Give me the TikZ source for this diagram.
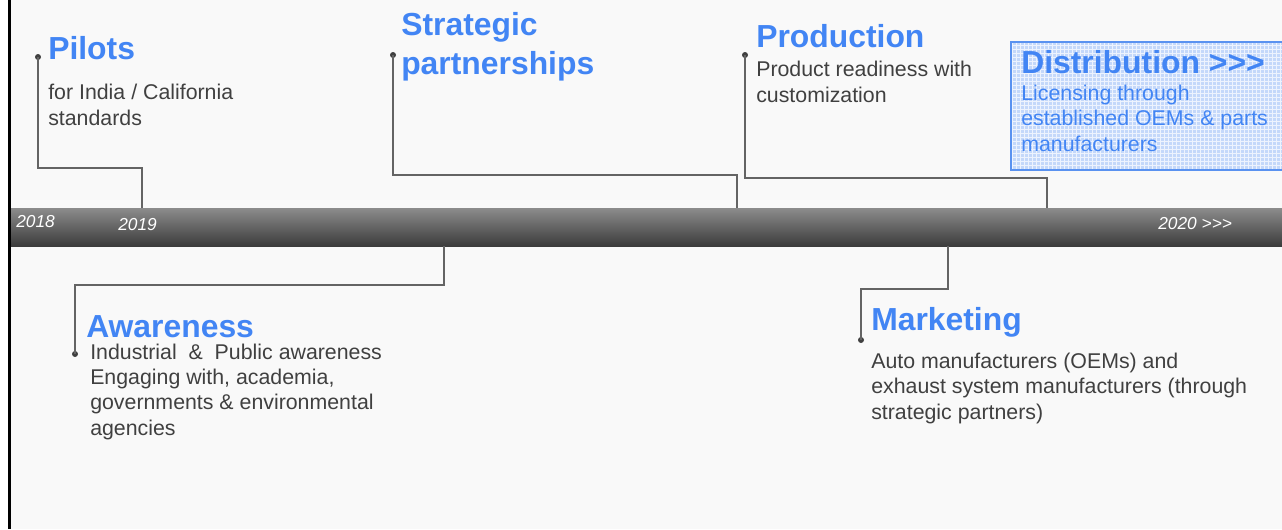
\documentclass[tikz,border=0pt]{standalone}
\usepackage{fontspec}
\setmainfont{Liberation Sans}
\usetikzlibrary{patterns}
\definecolor{headblue}{RGB}{66,133,244}
\definecolor{bodygray}{RGB}{64,64,64}
\definecolor{linegray}{RGB}{100,100,100}
\definecolor{panel}{RGB}{249,249,249}
\definecolor{boxfill}{RGB}{196,216,250}
\definecolor{boxedge}{RGB}{90,146,240}
% multi-line nodes are placed by the baseline of their last line
\tikzset{
  heading/.style={anchor=base west, inner sep=0pt, align=left, text=headblue,
    font=\fontsize{23.9}{29}\selectfont\bfseries},
  bodytext/.style={anchor=base west, inner sep=0pt, align=left, text=bodygray,
    font=\fontsize{16}{18.8}\selectfont},
  yeartext/.style={anchor=base west, inner sep=0pt, text=white,
    font=\fontsize{13}{15}\selectfont\itshape},
  dotnode/.style={circle, fill=bodygray, inner sep=0pt, minimum size=4.5pt},
  conn/.style={draw=linegray, line width=0.85pt},
}
\begin{document}
\begin{tikzpicture}[x=0.75pt, y=-0.75pt]
\useasboundingbox (0,0) rectangle (1282,529);
% page background and left rule
\fill[white] (0,0) rectangle (1282,529);
\fill[panel] (10,0) rectangle (1282,529);
\fill[black] (8,0) rectangle (11,529);

% timeline bar
\shade[top color={rgb,255:red,140;green,140;blue,140}, bottom color={rgb,255:red,60;green,60;blue,60}]
  (11,208) rectangle (1282,246);
\node[yeartext] (y18) at (16,227) {2018};
\node[yeartext] (y19) at (118,230) {2019};
\node[yeartext] (y20) at (1158,229) {2020 >{}>{}>};

% anchor points on the bar
\coordinate (pbar) at (142,208);
\coordinate (sbar) at (737,208);
\coordinate (prbar) at (1047,208);
\coordinate (abar) at (444,246);
\coordinate (mbar) at (948,246);

% Pilots
\node[dotnode] (pdot) at (38,57) {};
\node[heading] (pilots) at (48,59) {Pilots};
\node[bodytext] (pilotstxt) at (48,125) {for India / California\\standards};
\draw[conn] (pdot.center) -- ++(0,111) -| (pbar);

% Strategic partnerships
\node[dotnode] (sdot) at (393,55) {};
\node[heading] (strat) at (401,74) {Strategic\\partnerships};
\draw[conn] (sdot.center) -- ++(0,120) -| (sbar);

% Production
\node[dotnode] (prdot) at (745,55) {};
\node[heading] (prod) at (756,47) {Production};
\node[bodytext] (prodtxt) at (756,102) {Product readiness with\\customization};
\draw[conn] (prdot.center) -- ++(0,123) -| (prbar);

% Distribution
\fill[boxfill] (1011,42) rectangle (1282,170);
\fill[pattern=grid, pattern color=white!70!boxfill] (1011,42) rectangle (1282,170);
\draw[boxedge, line width=0.9pt] (1282,42) -- (1011,42) -- (1011,170) -- (1282,170);
\node[heading] (dist) at (1021,73) {Distribution >{}>{}>};
\node[bodytext, text=headblue, font=\fontsize{16}{19.1}\selectfont] (disttxt) at (1021,151)
  {Licensing through\\established OEMs \& parts\\manufacturers};

% Awareness
\node[dotnode] (adot) at (75,354) {};
\node[heading] (aware) at (86,337) {Awareness};
\node[bodytext] (awaretxt) at (90,435)
  {Industrial\ \ \&\ \ Public awareness\\Engaging with, academia,\\governments \& environmental\\agencies};
\draw[conn] (abar) -- ++(0,39) -| (adot.center);

% Marketing
\node[dotnode] (mdot) at (861,340) {};
\node[heading] (mkt) at (871,330) {Marketing};
\node[bodytext] (mkttxt) at (871,419)
  {Auto manufacturers (OEMs) and\\exhaust system manufacturers (through\\strategic partners)};
\draw[conn] (mbar) -- ++(0,43) -| (mdot.center);
\end{tikzpicture}
\end{document}
